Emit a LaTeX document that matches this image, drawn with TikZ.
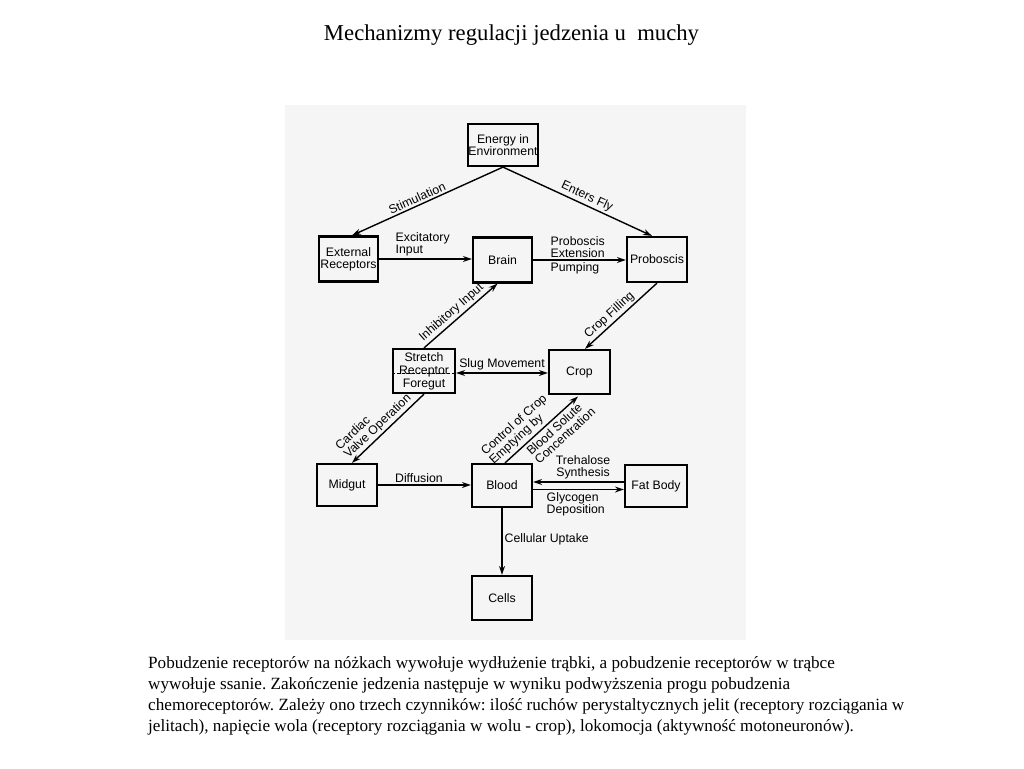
\documentclass[tikz,border=0pt]{standalone}
\usepackage{fontspec}
\setmainfont{Liberation Serif}
\newfontfamily\diag{Liberation Sans}
\usetikzlibrary{arrows.meta,calc}
\begin{document}
\frenchspacing
\begin{tikzpicture}[x=1pt,y=-1pt,
 box/.style={draw, line width=2.2pt, inner sep=0pt, align=center, font=\diag\fontsize{12.3}{12}\selectfont},
 lbl/.style={inner sep=2pt, font=\diag\fontsize{12.3}{12}\selectfont},
 arr/.style={line width=1.4pt, -{Stealth[length=9pt,width=6pt]}},
 dbl/.style={line width=1.4pt, {Stealth[length=9pt,width=6pt]}-{Stealth[length=9pt,width=6pt]}},
 para/.style={inner sep=0pt, anchor=base west, font=\fontsize{17.15}{21}\selectfont},
]
\useasboundingbox (0,0) rectangle (1024,768);
\fill[white] (0,0) rectangle (1024,768);
\fill[black!4] (285,105) rectangle (746,640);

\node (title) at (511.5,35) {\fontsize{22.7}{27}\selectfont Mechanizmy regulacji jedzenia u\ \ muchy};

% boxes
\node[box, minimum width=70pt, minimum height=42pt] (energy) at (503,145) {Energy in\\Environment};
\node[box, minimum width=59pt, minimum height=45pt] (ext) at (348.5,259) {External\\Receptors};
\node[box, minimum width=59pt, minimum height=45pt] (brain) at (502.5,260) {Brain};
\node[box, minimum width=60pt, minimum height=45pt] (prob) at (657,259.5) {Proboscis};
\node[box, minimum width=62pt, minimum height=44pt, font=\diag\fontsize{12.3}{13}\selectfont] (stretch) at (424,371) {Stretch\\Receptor\\Foregut};
\node[box, minimum width=61pt, minimum height=44pt] (crop) at (579.5,372) {Crop};
\node[box, minimum width=60pt, minimum height=42pt] (midgut) at (347,485) {Midgut};
\node[box, minimum width=60pt, minimum height=43pt] (blood) at (502,485.5) {Blood};
\node[box, minimum width=62pt, minimum height=42pt] (fat) at (656,486) {Fat Body};
\node[box, minimum width=60pt, minimum height=44pt] (cells) at (502,598) {Cells};

% connectors
\draw[arr] (energy.south) -- node[lbl, sloped, above, pos=0.55] (l1) {Stimulation} ([xshift=3.5pt]ext.north);
\draw[arr] (energy.south) -- node[lbl, sloped, above, pos=0.54] (l2) {Enters Fly} ([xshift=-5pt]prob.north);
\draw[arr] (ext.east) -- node[lbl, anchor=south west, align=left, pos=0.15] (l3) {Excitatory\\Input} (ext.east -| brain.west);
\draw[arr] (brain.east) -- node[lbl, anchor=south west, align=left, pos=0.16] (l4) {Proboscis\\Extension}
  node[lbl, anchor=north west, pos=0.16] (l5) {Pumping} (brain.east -| prob.west);
\draw[arr] (stretch.north) -- node[lbl, sloped, above, pos=0.45] (l6) {Inhibitory Input} ([xshift=-5pt]brain.south);
\draw[arr] (prob.south) -- node[lbl, sloped, above, pos=0.58] (l7) {Crop Filling} ([xshift=5.5pt]crop.north);
\draw[densely dashed, line width=0.6pt] ([yshift=-2pt]stretch.west) -- ([yshift=-2pt]stretch.east);
\draw[dbl] ([yshift=-2pt]stretch.east) -- node[lbl, above, pos=0.5] (l8) {Slug Movement} ([yshift=-2pt]stretch.east -| crop.west);
\draw[arr] (stretch.south) -- node[lbl, sloped, above, align=left, pos=0.56] (l9) {Cardiac\\Valve Operation} ([xshift=5pt]midgut.north);
\draw[arr] (midgut.east) -- node[lbl, above, pos=0.44] (l10) {Diffusion} (midgut.east -| blood.west);
\draw[arr, shorten >=2pt] ([xshift=3pt]blood.north) -- node[lbl, sloped, above, align=left, pos=0.32, inner sep=3pt] (l11) {Control of Crop\\Emptying by}
  node[lbl, sloped, below, align=left, pos=0.62, inner sep=3pt] (l12) {Blood Solute\\Concentration} (crop.south);
\draw[arr] ([yshift=4pt]fat.west) -- node[lbl, above, align=center, pos=0.45] (l13) {Trehalose\\Synthesis} ([yshift=4pt]fat.west -| blood.east);
\draw[arr] ([yshift=-4pt]blood.east) -- node[lbl, anchor=north west, align=left, pos=0.12] (l14) {Glycogen\\Deposition} ([yshift=-4pt]blood.east -| fat.west);
\draw[arr] (blood.south) -- node[lbl, right, pos=0.46] (l15) {Cellular Uptake} (cells.north);

% caption
\node[para] (p1) at (148,668) {Pobudzenie receptorów na nóżkach wywołuje wydłużenie trąbki, a pobudzenie receptorów w trąbce};
\node[para] (p2) at (148,689) {wywołuje ssanie. Zakończenie jedzenia następuje w wyniku podwyższenia progu pobudzenia};
\node[para] (p3) at (148,710) {chemoreceptorów. Zależy ono trzech czynników: ilość ruchów perystaltycznych jelit (receptory rozciągania w};
\node[para] (p4) at (148,731) {jelitach), napięcie wola (receptory rozciągania w wolu - crop), lokomocja (aktywność motoneuronów).};
\end{tikzpicture}
\end{document}
